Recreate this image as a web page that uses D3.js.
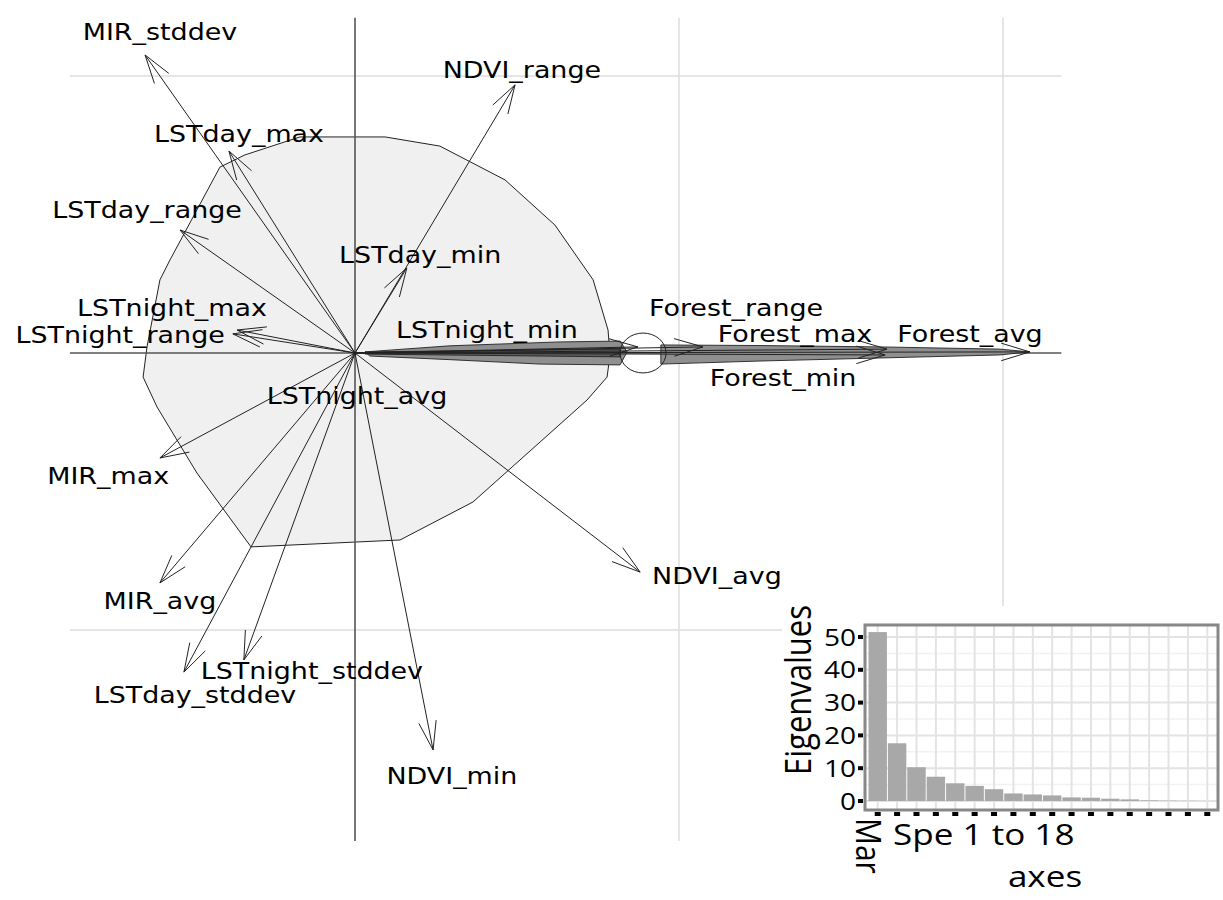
<!DOCTYPE html>
<html>
<head>
<meta charset="utf-8">
<script src="https://cdn.jsdelivr.net/npm/d3@7"></script>
<style>
  html, body { margin: 0; padding: 0; background: #fff; }
  svg { display: block; }
</style>
</head>
<body>
<svg id="chart" width="1223" height="900"></svg>
<script>
// ---- variable arrows (correlation-circle style coordinates) ----
const varNames = ["MIR_stddev","LSTday_max","LSTday_range","NDVI_range","LSTday_min",
  "LSTnight_max","LSTnight_range","LSTnight_min","LSTnight_avg","MIR_max","MIR_avg",
  "LSTday_stddev","LSTnight_stddev","NDVI_min","NDVI_avg","Forest_range","Forest_max",
  "Forest_avg","Forest_min"];
const arrowX = [-0.648,-0.389,-0.540, 0.494, 0.160,-0.364,-0.377, 0.873, 0.003,-0.602,-0.602,
  -0.528,-0.343, 0.241, 0.880, 1.074, 1.642, 2.083, 1.636];
const arrowY = [ 1.076, 0.729, 0.444, 0.968, 0.307, 0.083, 0.069, 0.022,-0.008,-0.379,-0.830,
  -1.152,-1.108,-1.433,-0.791, 0.022, 0.014, 0.004,-0.007];
// label anchor points (same coordinate system as the arrows)
const labelX = [-0.602,-0.358,-0.642, 0.515, 0.201,-0.565,-0.725, 0.407, 0.006,-0.762,-0.602,
  -0.494,-0.133, 0.299, 1.117, 1.176, 1.358, 1.898, 1.321];
const labelY = [ 1.159, 0.791, 0.516, 1.022, 0.354, 0.162, 0.065, 0.083,-0.155,-0.444,-0.895,
  -1.235,-1.148,-1.527,-0.805, 0.162, 0.069, 0.069,-0.090];

// ---- convex hull of the sample scores ----
const hullX = [-0.170, 0.093, 0.262, 0.463, 0.617, 0.735, 0.781, 0.787, 0.778, 0.716, 0.364,
  0.139,-0.321,-0.488,-0.611,-0.654,-0.642,-0.602,-0.571,-0.417,-0.340];
const hullY = [ 0.780, 0.780, 0.747, 0.625, 0.462, 0.264, 0.083,-0.007,-0.087,-0.170,-0.538,
  -0.675,-0.700,-0.433,-0.195,-0.087, 0.022, 0.264, 0.336, 0.671, 0.715];

// ---- forest group: narrow hulls and ellipse ----
const forestHullAX = [0.031, 0.293, 0.633, 0.818, 0.840, 0.818, 0.571, 0.293, 0.046];
const forestHullAY = [0.004, 0.026, 0.040, 0.043, 0.004,-0.043,-0.040,-0.024,-0.011];
const forestHullBX = [0.031, 0.818, 0.818, 0.031];
const forestHullBY = [0.004, 0.014,-0.014,-0.004];
const forestHullCX = [0.944, 1.250, 1.620, 1.990, 2.083, 1.990, 1.620, 1.250, 0.944];
const forestHullCY = [0.029, 0.027, 0.022, 0.014, 0.004,-0.007,-0.018,-0.029,-0.040];
const ellipseCenter = [0.889, 0.0];
const ellipseRadii = [0.071, 0.072];

// ---- eigenvalue inset ----
const eigenvalues = [51.5, 17.6, 10.3, 7.4, 5.4, 4.6, 3.6, 2.3, 2.0, 1.7, 1.1, 1.0, 0.7, 0.5, 0.2, 0.1, 0.05, 0.0];
const eigTicks = [0, 10, 20, 30, 40, 50];

const svg = d3.select("#chart");
const STRETCH = 1.17; // horizontal glyph stretch used for all text

// scales for the main factorial map (grid step = 1)
const x = d3.scaleLinear().domain([0, 1]).range([355, 679]);
const y = d3.scaleLinear().domain([0, 1]).range([353, 76]);
const xDom = [-0.88, 2.18], yDom = [-1.762, 1.21];

const g = svg.append("g");

// grid
[1, -1].forEach(v => g.append("line")
  .attr("x1", x(xDom[0])).attr("x2", x(xDom[1])).attr("y1", y(v)).attr("y2", y(v))
  .attr("stroke", "#dcdcdc").attr("stroke-width", 1.5));
[1, 2].forEach(v => g.append("line")
  .attr("x1", x(v)).attr("x2", x(v)).attr("y1", y(yDom[1])).attr("y2", y(yDom[0]))
  .attr("stroke", "#dcdcdc").attr("stroke-width", 1.5));

// convex hull
const hullPts = hullX.map((d, i) => [x(d), y(hullY[i])]);
g.append("path").attr("d", d3.line()(hullPts) + "Z")
  .attr("fill", "#f0f0f0").attr("stroke", "#222").attr("stroke-width", 1);

// axes through origin
g.append("line").attr("x1", x(xDom[0])).attr("x2", x(xDom[1])).attr("y1", y(0)).attr("y2", y(0))
  .attr("stroke", "#555").attr("stroke-width", 1.6);
g.append("line").attr("x1", x(0)).attr("x2", x(0)).attr("y1", y(yDom[1])).attr("y2", y(yDom[0]))
  .attr("stroke", "#555").attr("stroke-width", 1.6);

// forest hulls
function poly(xs, ys, fill) {
  const pts = xs.map((d, i) => [x(d), y(ys[i])]);
  g.append("path").attr("d", d3.line()(pts) + "Z")
    .attr("fill", fill).attr("stroke", "#222").attr("stroke-width", 0.9);
}
poly(forestHullAX, forestHullAY, "#8f8f8f");
poly(forestHullBX, forestHullBY, "#5e5e5e");
poly(forestHullCX, forestHullCY, "#8f8f8f");

g.append("ellipse")
  .attr("cx", x(ellipseCenter[0])).attr("cy", y(ellipseCenter[1]))
  .attr("rx", x(ellipseRadii[0]) - x(0)).attr("ry", y(0) - y(ellipseRadii[1]))
  .attr("fill", "none").attr("stroke", "#222").attr("stroke-width", 1);

// arrows
const headLen = 30, headAng = 17 * Math.PI / 180;
varNames.forEach((name, i) => {
  const x0 = x(0), y0 = y(0), x1 = x(arrowX[i]), y1 = y(arrowY[i]);
  g.append("line").attr("x1", x0).attr("y1", y0).attr("x2", x1).attr("y2", y1)
    .attr("stroke", "#222").attr("stroke-width", 1);
  const len = Math.hypot(x1 - x0, y1 - y0);
  if (len > 5) {
    const a = Math.atan2(y0 - y1, x0 - x1);
    const p = d3.path();
    p.moveTo(x1 + headLen * Math.cos(a + headAng), y1 + headLen * Math.sin(a + headAng));
    p.lineTo(x1, y1);
    p.lineTo(x1 + headLen * Math.cos(a - headAng), y1 + headLen * Math.sin(a - headAng));
    g.append("path").attr("d", p.toString()).attr("fill", "none")
      .attr("stroke", "#222").attr("stroke-width", 1);
  }
});

// labels
varNames.forEach((name, i) => {
  g.append("text")
    .attr("transform", `translate(${x(labelX[i])},${y(labelY[i])}) scale(${STRETCH},1)`)
    .attr("text-anchor", "middle").attr("dy", "0.36em")
    .attr("font-family", "DejaVu Sans").attr("font-size", 23).attr("fill", "#000")
    .text(name);
});

// ---- eigenvalue barplot inset ----
const ins = svg.append("g");
ins.append("rect").attr("x", 782).attr("y", 606).attr("width", 441).attr("height", 294).attr("fill", "#fff");

const bx = d3.scaleBand().domain(d3.range(eigenvalues.length)).range([868.5, 1216.5]).paddingInner(0.05);
const by = d3.scaleLinear().domain([0, 50]).range([801, 637]);
const fr = { x0: 865, x1: 1218, y0: 625, y1: 810 };

// minor / major horizontal grid
d3.range(5, 55, 5).forEach(v => {
  ins.append("line").attr("x1", fr.x0).attr("x2", fr.x1).attr("y1", by(v)).attr("y2", by(v))
    .attr("stroke", v % 10 === 0 ? "#e3e3e3" : "#f2f2f2").attr("stroke-width", v % 10 === 0 ? 2 : 1.5);
});
ins.append("line").attr("x1", fr.x0).attr("x2", fr.x1).attr("y1", by(0)).attr("y2", by(0))
  .attr("stroke", "#e3e3e3").attr("stroke-width", 2);
eigenvalues.forEach((v, i) => {
  const cx = bx(i) + bx.bandwidth() / 2;
  ins.append("line").attr("x1", cx).attr("x2", cx).attr("y1", fr.y0).attr("y2", fr.y1)
    .attr("stroke", "#e3e3e3").attr("stroke-width", 2);
});
// bars
ins.selectAll("rect.bar").data(eigenvalues).join("rect").attr("class", "bar")
  .attr("x", (d, i) => bx(i)).attr("width", bx.bandwidth())
  .attr("y", d => by(d)).attr("height", d => by(0) - by(d))
  .attr("fill", "#a8a8a8");
// frame
ins.append("rect").attr("x", fr.x0).attr("y", fr.y0).attr("width", fr.x1 - fr.x0).attr("height", fr.y1 - fr.y0)
  .attr("fill", "none").attr("stroke", "#888").attr("stroke-width", 3);
// tick marks
eigTicks.forEach(t => {
  ins.append("rect").attr("x", 858).attr("y", by(t) - 2).attr("width", 5).attr("height", 4).attr("fill", "#000");
  ins.append("text").attr("transform", `translate(856,${by(t)}) scale(${STRETCH},1)`)
    .attr("text-anchor", "end").attr("dy", "0.36em")
    .attr("font-family", "Open Sans").attr("font-size", 24).attr("fill", "#000").text(t);
});
eigenvalues.forEach((v, i) => {
  const cx = bx(i) + bx.bandwidth() / 2;
  ins.append("rect").attr("x", cx - 3).attr("y", 812).attr("width", 6).attr("height", 4).attr("fill", "#000");
});
// axis titles
ins.append("text").attr("transform", `translate(798,690) rotate(-90) scale(1,${STRETCH})`)
  .attr("text-anchor", "middle").attr("dy", "0.36em")
  .attr("font-family", "Open Sans").attr("font-size", 31).text("Eigenvalues");
ins.append("text").attr("transform", `translate(869,818) rotate(90) scale(1,${STRETCH})`)
  .attr("text-anchor", "start").attr("dy", "0.36em")
  .attr("font-family", "Open Sans").attr("font-size", 30).text("Mar");
ins.append("text").attr("transform", `translate(893,845) scale(${STRETCH},1)`)
  .attr("text-anchor", "start")
  .attr("font-family", "Open Sans").attr("font-size", 30).text("Spe 1 to 18");
ins.append("text").attr("transform", `translate(1045,887) scale(${STRETCH},1)`)
  .attr("text-anchor", "middle")
  .attr("font-family", "Open Sans").attr("font-size", 30).text("axes");
</script>
</body>
</html>
